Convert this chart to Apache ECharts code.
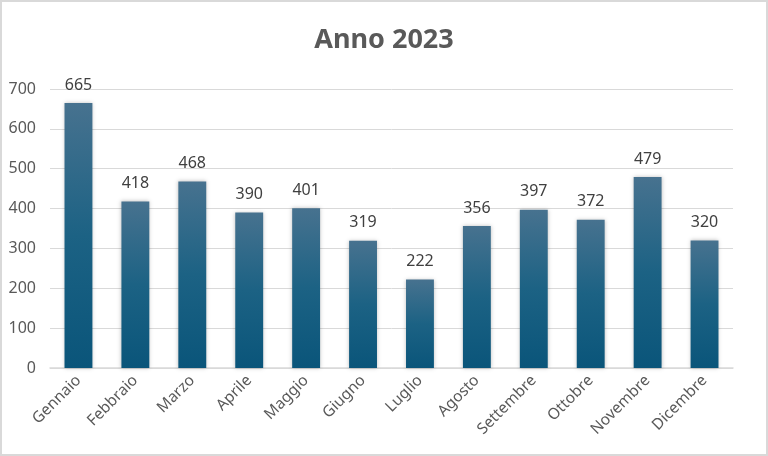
<!DOCTYPE html>
<html><head><meta charset="utf-8">
<script src="https://cdn.jsdelivr.net/npm/echarts@6/dist/echarts.min.js"></script>
<style>html,body{margin:0;padding:0;background:#fff}#c{width:768px;height:456px;box-sizing:border-box;border:2px solid #d9d9d9}</style>
</head><body><div id="c"></div>
<script>
const categories = ['Gennaio','Febbraio','Marzo','Aprile','Maggio','Giugno','Luglio','Agosto','Settembre','Ottobre','Novembre','Dicembre'];
const values = [665,418,468,390,401,319,222,356,397,372,479,320];
const yTicks = [0,100,200,300,400,500,600,700];

const chart = echarts.init(document.getElementById('c'));
chart.setOption({
  animation:false,
  title:{text:'Anno 2023',left:'center',top:20,textStyle:{fontFamily:'Noto Sans',fontSize:27,fontWeight:'bold',color:'#595959'}},
  grid:{left:48,right:33,top:87,bottom:86},
  xAxis:{type:'category',data:categories,
    axisLine:{lineStyle:{color:'#d9d9d9',width:1.5}},axisTick:{show:false},
    axisLabel:{rotate:45,interval:0,margin:10,fontFamily:'Noto Sans',fontSize:15.5,color:'#595959'}},
  yAxis:{type:'value',min:yTicks[0],max:yTicks[yTicks.length-1],interval:100,
    axisLine:{show:false},axisTick:{show:false},
    splitLine:{lineStyle:{color:'#d9d9d9',width:1}},
    axisLabel:{margin:14,fontFamily:'Noto Sans',fontSize:16,color:'#595959'}},
  series:[{type:'bar',data:values,barWidth:'49%',
    itemStyle:{color:new echarts.graphic.LinearGradient(0,0,0,1,[{offset:0,color:'#47728f'},{offset:0.5,color:'#1c6284'},{offset:1,color:'#0a557a'}]),
      shadowColor:'rgba(0,0,0,0.25)',shadowBlur:4},
    label:{show:true,position:'top',distance:10,fontFamily:'Noto Sans',fontSize:16,color:'#404040'}}]
});
</script></body></html>
